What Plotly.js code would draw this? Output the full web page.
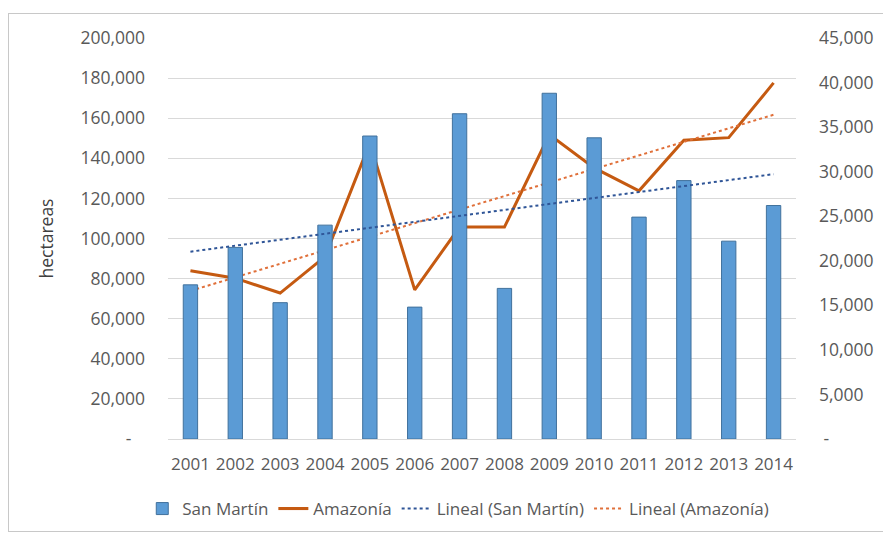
<!DOCTYPE html>
<html>
<head>
<meta charset="utf-8">
<script src="https://cdn.plot.ly/plotly-3.0.1.min.js"></script>
<style>
  html, body { margin: 0; padding: 0; background: #fff; }
  #frame { position: absolute; left: 8px; top: 13px; width: 900px; height: 517px;
           border-left: 1px solid #c8c8c8; border-top: 1px solid #c8c8c8; border-bottom: 1px solid #c8c8c8; }
  #chart { position: absolute; left: 0; top: 0; width: 883px; height: 533px; }
</style>
</head>
<body>
<div id="frame"></div>
<div id="chart"></div>
<script>
const years = ["2001","2002","2003","2004","2005","2006","2007","2008","2009","2010","2011","2012","2013","2014"];
const sanMartin = [17300, 21500, 15300, 24000, 34000, 14800, 36500, 16900, 38800, 33800, 24900, 29000, 22200, 26200];
const amazonia = [83900, 80200, 72800, 91000, 147700, 74400, 105700, 105700, 151800, 135200, 123800, 149000, 150300, 177600];
const leftTicks = [0, 20000, 40000, 60000, 80000, 100000, 120000, 140000, 160000, 180000, 200000];
const leftLabels = ["-\u00a0\u00a0\u00a0", "20,000", "40,000", "60,000", "80,000", "100,000", "120,000", "140,000", "160,000", "180,000", "200,000"];
const rightTicks = [0, 5000, 10000, 15000, 20000, 25000, 30000, 35000, 40000, 45000];
const rightLabels = ["\u00a0-", "5,000", "10,000", "15,000", "20,000", "25,000", "30,000", "35,000", "40,000", "45,000"];

function linearTrend(vals) {
  const n = vals.length;
  let sx = 0, sy = 0, sxy = 0, sxx = 0;
  vals.forEach((v, i) => { sx += i; sy += v; sxy += i * v; sxx += i * i; });
  const b = (n * sxy - sx * sy) / (n * sxx - sx * sx);
  const a = (sy - b * sx) / n;
  return vals.map((_, i) => a + b * i);
}

const font = "'Open Sans', sans-serif";
const gray = "#595959";

const traces = [
  { type: "bar", name: "San Martín", x: years, y: sanMartin, yaxis: "y2",
    marker: { color: "#5B9BD5", line: { color: "#41719C", width: 1 } } },
  { type: "scatter", mode: "lines", name: "Amazonía", x: years, y: amazonia, yaxis: "y",
    line: { color: "#C55A11", width: 3 } },
  { type: "scatter", mode: "lines", name: "Lineal (San Martín)", x: years, y: linearTrend(sanMartin), yaxis: "y2",
    line: { color: "#2F5597", width: 2, dash: "dot" } },
  { type: "scatter", mode: "lines", name: "Lineal (Amazonía)", x: years, y: linearTrend(amazonia), yaxis: "y",
    line: { color: "#E0703A", width: 2, dash: "dot" } }
];

const layout = {
  width: 883, height: 533,
  margin: { l: 168, r: 87, t: 38, b: 94 },
  paper_bgcolor: "rgba(0,0,0,0)",
  plot_bgcolor: "rgba(0,0,0,0)",
  font: { family: font, size: 16, color: gray },
  bargap: 0.68,
  showlegend: true,
  legend: { orientation: "h", xref: "container", yref: "container", x: 0.519, xanchor: "center",
            y: 0.045, yanchor: "middle",
            font: { family: font, size: 17, color: gray }, traceorder: "normal" },
  xaxis: { type: "category", tickvals: years, ticktext: years, showgrid: false, zeroline: false,
           showline: true, linecolor: "#d9d9d9", linewidth: 1, ticks: "", automargin: false,
           tickfont: { family: font, size: 17, color: gray }, ticklabelstandoff: 10 },
  yaxis: { range: [0, 200000], tickvals: leftTicks, ticktext: leftLabels, showgrid: true, automargin: false,
           gridcolor: "#d9d9d9", gridwidth: 1, zeroline: false, showline: false, ticks: "",
           tickfont: { family: font, size: 17.5, color: gray }, ticklabelstandoff: 22,
           title: { text: "hectareas", font: { family: font, size: 17.5, color: "#404040" }, standoff: 22 } },
  yaxis2: { range: [0, 45000], tickvals: rightTicks, ticktext: rightLabels, overlaying: "y", side: "right",
            showgrid: false, zeroline: false, showline: false, ticks: "", automargin: false,
            tickfont: { family: font, size: 17.5, color: gray }, ticklabelstandoff: 22 }
};

Plotly.newPlot("chart", traces, layout, { displayModeBar: false, staticPlot: true });
</script>
</body>
</html>
